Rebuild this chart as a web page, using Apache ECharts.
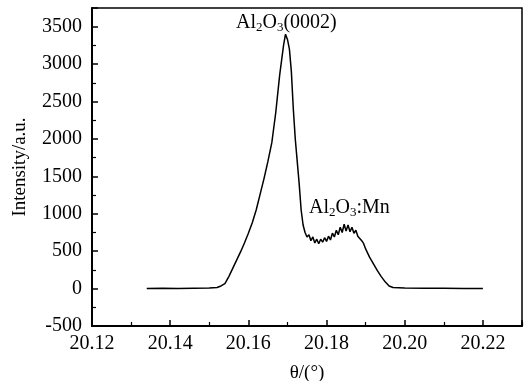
<!DOCTYPE html>
<html>
<head>
<meta charset="utf-8">
<script src="https://cdn.jsdelivr.net/npm/echarts@6/dist/echarts.min.js"></script>
<style>html,body{margin:0;padding:0;background:#fff}#c{width:526px;height:381px}</style>
</head>
<body>
<div id="c"></div>
<script>
// Data
var theta = [20.134, 20.138, 20.142, 20.146, 20.150, 20.152, 20.153, 20.154, 20.155, 20.156, 20.157, 20.158, 20.159, 20.160, 20.161, 20.162, 20.163, 20.164, 20.165, 20.166, 20.167, 20.168, 20.169, 20.1695, 20.170, 20.1705, 20.171, 20.1715, 20.172, 20.1725, 20.173, 20.1735, 20.174,
  20.1745, 20.175, 20.1755, 20.176, 20.1765, 20.177, 20.1775, 20.178, 20.1785, 20.179, 20.1795, 20.180, 20.1805, 20.181, 20.1815, 20.182, 20.1825, 20.183, 20.1835, 20.184, 20.1845, 20.185, 20.1855, 20.186, 20.1865, 20.187, 20.1875, 20.188, 20.1885, 20.189, 20.1895, 20.190,
  20.191, 20.192, 20.193, 20.194, 20.195, 20.196, 20.197, 20.200, 20.205, 20.210, 20.215, 20.220];
var intensity = [0, 4, 2, 6, 8, 15, 35, 66, 160, 270, 380, 490, 610, 740, 880, 1050, 1260, 1470, 1700, 1950, 2350, 2850, 3250, 3400, 3330, 3200, 2900, 2400, 2000, 1700, 1400, 1050, 850,
  750, 690, 720, 640, 690, 610, 660, 600, 660, 620, 680, 630, 700, 650, 740, 690, 780, 720, 820, 750, 860, 770, 850, 760, 820, 740, 780, 700, 720, 640, 600, 530,
  420, 330, 240, 160, 90, 35, 15, 8, 5, 3, 2, 0];
var xTicks = {min: 20.12, max: 20.23, interval: 0.02};
var yTicks = {min: -500, max: 3750, interval: 500};
var xName = 'θ/(°)';
var yName = 'Intensity/a.u.';

var pts = theta.map(function (t, i) { return [t, intensity[i]]; });
var chart = echarts.init(document.getElementById('c'));
var F = 'Liberation Serif, Times New Roman, serif';
var rich = {n: {fontFamily: F, fontSize: 20, fill: '#000'}, s: {fontFamily: F, fontSize: 13, fill: '#000', verticalAlign: 'bottom', padding: [10, 0, 0, 0]}};
chart.setOption({
  animation: false,
  grid: {left: 92, right: 4, top: 8, bottom: 55, show: true, borderColor: '#000', borderWidth: 1.5, containLabel: false, outerBoundsMode: 'none'},
  xAxis: {
    type: 'value', min: xTicks.min, max: xTicks.max, interval: xTicks.interval,
    name: xName, nameLocation: 'middle', nameGap: 38,
    nameTextStyle: {color: '#000', fontFamily: F, fontSize: 19},
    axisLine: {onZero: false, lineStyle: {color: '#000', width: 2}},
    axisTick: {inside: true, length: 6, lineStyle: {color: '#000', width: 1.5}},
    minorTick: {show: true, splitNumber: 2, length: 4, lineStyle: {color: '#000', width: 1.2}},
    splitLine: {show: false},
    axisLabel: {color: '#000', fontFamily: F, fontSize: 20, margin: 8, showMaxLabel: false,
      formatter: function (v) { return v.toFixed(2); }}
  },
  yAxis: {
    type: 'value', min: yTicks.min, max: yTicks.max, interval: yTicks.interval,
    name: yName, nameLocation: 'middle', nameGap: 62, nameRotate: 90,
    nameTextStyle: {color: '#000', fontFamily: F, fontSize: 19},
    axisLine: {onZero: false, lineStyle: {color: '#000', width: 2}},
    axisTick: {inside: true, length: 6, lineStyle: {color: '#000', width: 1.5}},
    minorTick: {show: true, splitNumber: 2, length: 4, lineStyle: {color: '#000', width: 1.2}},
    splitLine: {show: false},
    axisLabel: {color: '#000', fontFamily: F, fontSize: 20, margin: 10, showMaxLabel: false,
      formatter: function (v) { return String(v); }}
  },
  series: [{
    type: 'line', data: pts, showSymbol: false, symbol: 'none',
    lineStyle: {color: '#000', width: 1.5}
  }],
  graphic: [
    {type: 'text', left: 236, top: 13, style: {
      text: '{n|Al}{s|2}{n|O}{s|3}{n|(0002)}', fill: '#000', rich: rich
    }},
    {type: 'text', left: 309, top: 198, style: {
      text: '{n|Al}{s|2}{n|O}{s|3}{n|:Mn}', fill: '#000', rich: rich
    }}
  ]
});
</script>
</body>
</html>
